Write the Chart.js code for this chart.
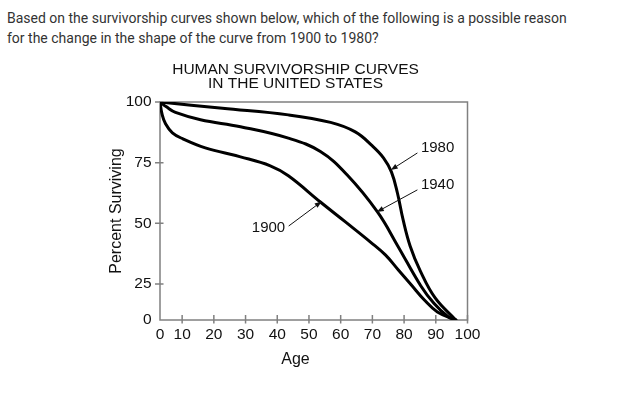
<!DOCTYPE html>
<html>
<head>
<meta charset="utf-8">
<style>
  html, body { margin:0; padding:0; background:#fff; }
  body { width:618px; height:401px; position:relative; overflow:hidden; }
  #question { position:absolute; left:7px; top:7.5px; font-family:Roboto, sans-serif; font-size:14px; line-height:20px; color:#333; }
  #chart { position:absolute; left:100px; top:55px; }
</style>
</head>
<body>
<div id="question">Based on the survivorship curves shown below, which of the following is a possible reason<br>for the change in the shape of the curve from 1900 to 1980?</div>
<canvas id="chart" width="391" height="320"></canvas>
<script src="https://cdn.jsdelivr.net/npm/chart.js@4/dist/chart.umd.min.js"></script>
<script>
const xTicks = [0, 10, 20, 30, 40, 50, 60, 70, 80, 90, 100];
const yTicks = [0, 25, 50, 75, 100];

const ages1980 = [0, 22.7, 43.5, 56.8, 64.6, 70.0, 73.5, 76.0, 77.9, 79.7, 81.9, 85.1, 89.8, 96.3];
const surv1980 = [100, 97.4, 94.7, 91.6, 87.7, 81.9, 77.0, 71.2, 62.5, 51.4, 40.7, 30.4, 15.3, 0];

const ages1940 = [0, 2.9, 7.0, 15.8, 28.4, 43.5, 53.6, 62.0, 71.6, 78.0, 85.3, 89.4, 93.8, 96.3];
const surv1940 = [100, 98.0, 95.7, 92.7, 89.8, 85.1, 79.6, 70.0, 54.7, 40.7, 23.6, 11.6, 2.4, 0];

const ages1900 = [0, 0.9, 2.5, 5.6, 10.1, 17.3, 28.4, 37.8, 43.5, 53.6, 61.5, 69.4, 74.1, 78.2, 82.3, 86.4, 90.5, 96.3];
const surv1900 = [100, 95.1, 91.0, 87.3, 84.9, 81.1, 77.4, 73.7, 69.6, 58.8, 50.6, 42.3, 37.0, 30.8, 24.3, 13.9, 5.6, 0];

const FONT = '"Liberation Sans", Arial, sans-serif';

// the printed figure squeezes the first step of each axis (0-10 on x, 0-25 on y)
const X_BREAK = 10, X_BREAK_FRAC = 0.072;
const Y_BREAK = 25, Y_BREAK_FRAC = 0.165;

function toDecimal(v, brk, frac, max){
  return v <= brk ? v / brk * frac : frac + (v - brk) / (max - brk) * (1 - frac);
}
function fromDecimal(d, brk, frac, max){
  return d <= frac ? d / frac * brk : brk + (d - frac) / (1 - frac) * (max - brk);
}

class SqueezedScale extends Chart.LinearScale {
  brk(){ return this.axis === 'x' ? [X_BREAK, X_BREAK_FRAC] : [Y_BREAK, Y_BREAK_FRAC]; }
  getPixelForValue(value){
    if(value === null || value === undefined) return NaN;
    const [b, f] = this.brk();
    return this.getPixelForDecimal(toDecimal(value, b, f, this.max));
  }
  getValueForPixel(pixel){
    const [b, f] = this.brk();
    return fromDecimal(this.getDecimalForPixel(pixel), b, f, this.max);
  }
}
SqueezedScale.id = 'squeezed';
SqueezedScale.defaults = Chart.LinearScale.defaults;
Chart.register(SqueezedScale);

function pts(xs, ys){ return xs.map((a, i) => ({x: a, y: ys[i]})); }

// year labels with their pointer arrows, in data units
const notes = [
  {text: '1980', at: [85.3, 81.0], align: 'left',  from: [84.2, 79.0], to: [75.8, 72.0]},
  {text: '1940', at: [85.3, 65.8], align: 'left',  from: [84.2, 63.8], to: [71.4, 54.7]},
  {text: '1900', at: [42.5, 48.0], align: 'right', from: [43.6, 48.9], to: [54.0, 59.0]}
];

const decor = {
  id: 'decor',
  beforeDatasetsDraw(chart){
    const {ctx, chartArea: a, scales: {x, y}} = chart;
    ctx.save();
    ctx.strokeStyle = '#808080';
    ctx.lineWidth = 1.5;
    ctx.strokeRect(a.left, a.top, a.right - a.left, a.bottom - a.top);
    ctx.beginPath();
    x.ticks.forEach(t => {
      if(t.value === 0) return;
      const px = x.getPixelForValue(t.value);
      ctx.moveTo(px, a.bottom - 5); ctx.lineTo(px, a.bottom + 3.5);
    });
    y.ticks.forEach(t => {
      if(t.value === 0) return;
      const py = y.getPixelForValue(t.value);
      ctx.moveTo(a.left - 5, py); ctx.lineTo(a.left + 3.5, py);
    });
    ctx.stroke();
    ctx.restore();
  },
  afterDatasetsDraw(chart){
    const {ctx, chartArea: a, scales: {x, y}} = chart;
    ctx.save();
    ctx.fillStyle = '#111';
    ctx.strokeStyle = '#111';
    ctx.lineWidth = 1;
    ctx.font = '15px ' + FONT;
    ctx.textBaseline = 'middle';
    notes.forEach(n => {
      ctx.textAlign = n.align;
      ctx.fillText(n.text, x.getPixelForValue(n.at[0]), y.getPixelForValue(n.at[1]));
      const x0 = x.getPixelForValue(n.from[0]), y0 = y.getPixelForValue(n.from[1]);
      const x1 = x.getPixelForValue(n.to[0]),   y1 = y.getPixelForValue(n.to[1]);
      const ang = Math.atan2(y1 - y0, x1 - x0);
      ctx.beginPath(); ctx.moveTo(x0, y0); ctx.lineTo(x1 - 5 * Math.cos(ang), y1 - 5 * Math.sin(ang)); ctx.stroke();
      ctx.beginPath();
      ctx.moveTo(x1, y1);
      ctx.lineTo(x1 - 7 * Math.cos(ang) + 2.6 * Math.sin(ang), y1 - 7 * Math.sin(ang) - 2.6 * Math.cos(ang));
      ctx.lineTo(x1 - 7 * Math.cos(ang) - 2.6 * Math.sin(ang), y1 - 7 * Math.sin(ang) + 2.6 * Math.cos(ang));
      ctx.closePath(); ctx.fill();
    });
    // x axis title, centred on the whole figure like the print
    ctx.font = '16px ' + FONT;
    ctx.textAlign = 'center';
    ctx.fillText('Age', chart.width / 2, a.bottom + 40);
    ctx.restore();
  }
};

const line = {borderColor: '#000', borderWidth: 3, pointRadius: 0, fill: false, tension: 0.4, borderCapStyle: 'round', borderJoinStyle: 'round'};

new Chart(document.getElementById('chart'), {
  type: 'line',
  data: {
    datasets: [
      Object.assign({label: '1980', data: pts(ages1980, surv1980)}, line),
      Object.assign({label: '1940', data: pts(ages1940, surv1940)}, line),
      Object.assign({label: '1900', data: pts(ages1900, surv1900)}, line)
    ]
  },
  options: {
    responsive: false,
    animation: false,
    layout: {padding: 0},
    plugins: {
      legend: {display: false},
      tooltip: {enabled: false},
      title: {
        display: true,
        text: ['HUMAN SURVIVORSHIP CURVES', 'IN THE UNITED STATES'],
        color: '#111',
        font: {family: FONT, size: 15.5, weight: 'normal', lineHeight: 14 / 15.5},
        padding: {top: 7.3, bottom: 11.7}
      }
    },
    scales: {
      x: {
        type: 'squeezed', min: 0, max: 100,
        grid: {display: false, drawTicks: false}, border: {display: false},
        afterBuildTicks: s => { s.ticks = xTicks.map(v => ({value: v})); },
        afterFit: s => { s.height = 55; s.paddingRight = 23.5; },
        ticks: {autoSkip: false, maxRotation: 0, padding: 5, color: '#111', font: {family: FONT, size: 15.5}}
      },
      y: {
        type: 'squeezed', min: 0, max: 100,
        grid: {display: false, drawTicks: false}, border: {display: false},
        afterBuildTicks: s => { s.ticks = yTicks.map(v => ({value: v})); },
        afterFit: s => { s.width = 60; },
        ticks: {autoSkip: false, padding: 8.5, color: '#111', font: {family: FONT, size: 15.5}},
        title: {display: true, text: 'Percent Surviving', color: '#111', font: {family: FONT, size: 16}, padding: {top: 6.9, bottom: 0}}
      }
    }
  },
  plugins: [decor]
});
</script>
</body>
</html>
